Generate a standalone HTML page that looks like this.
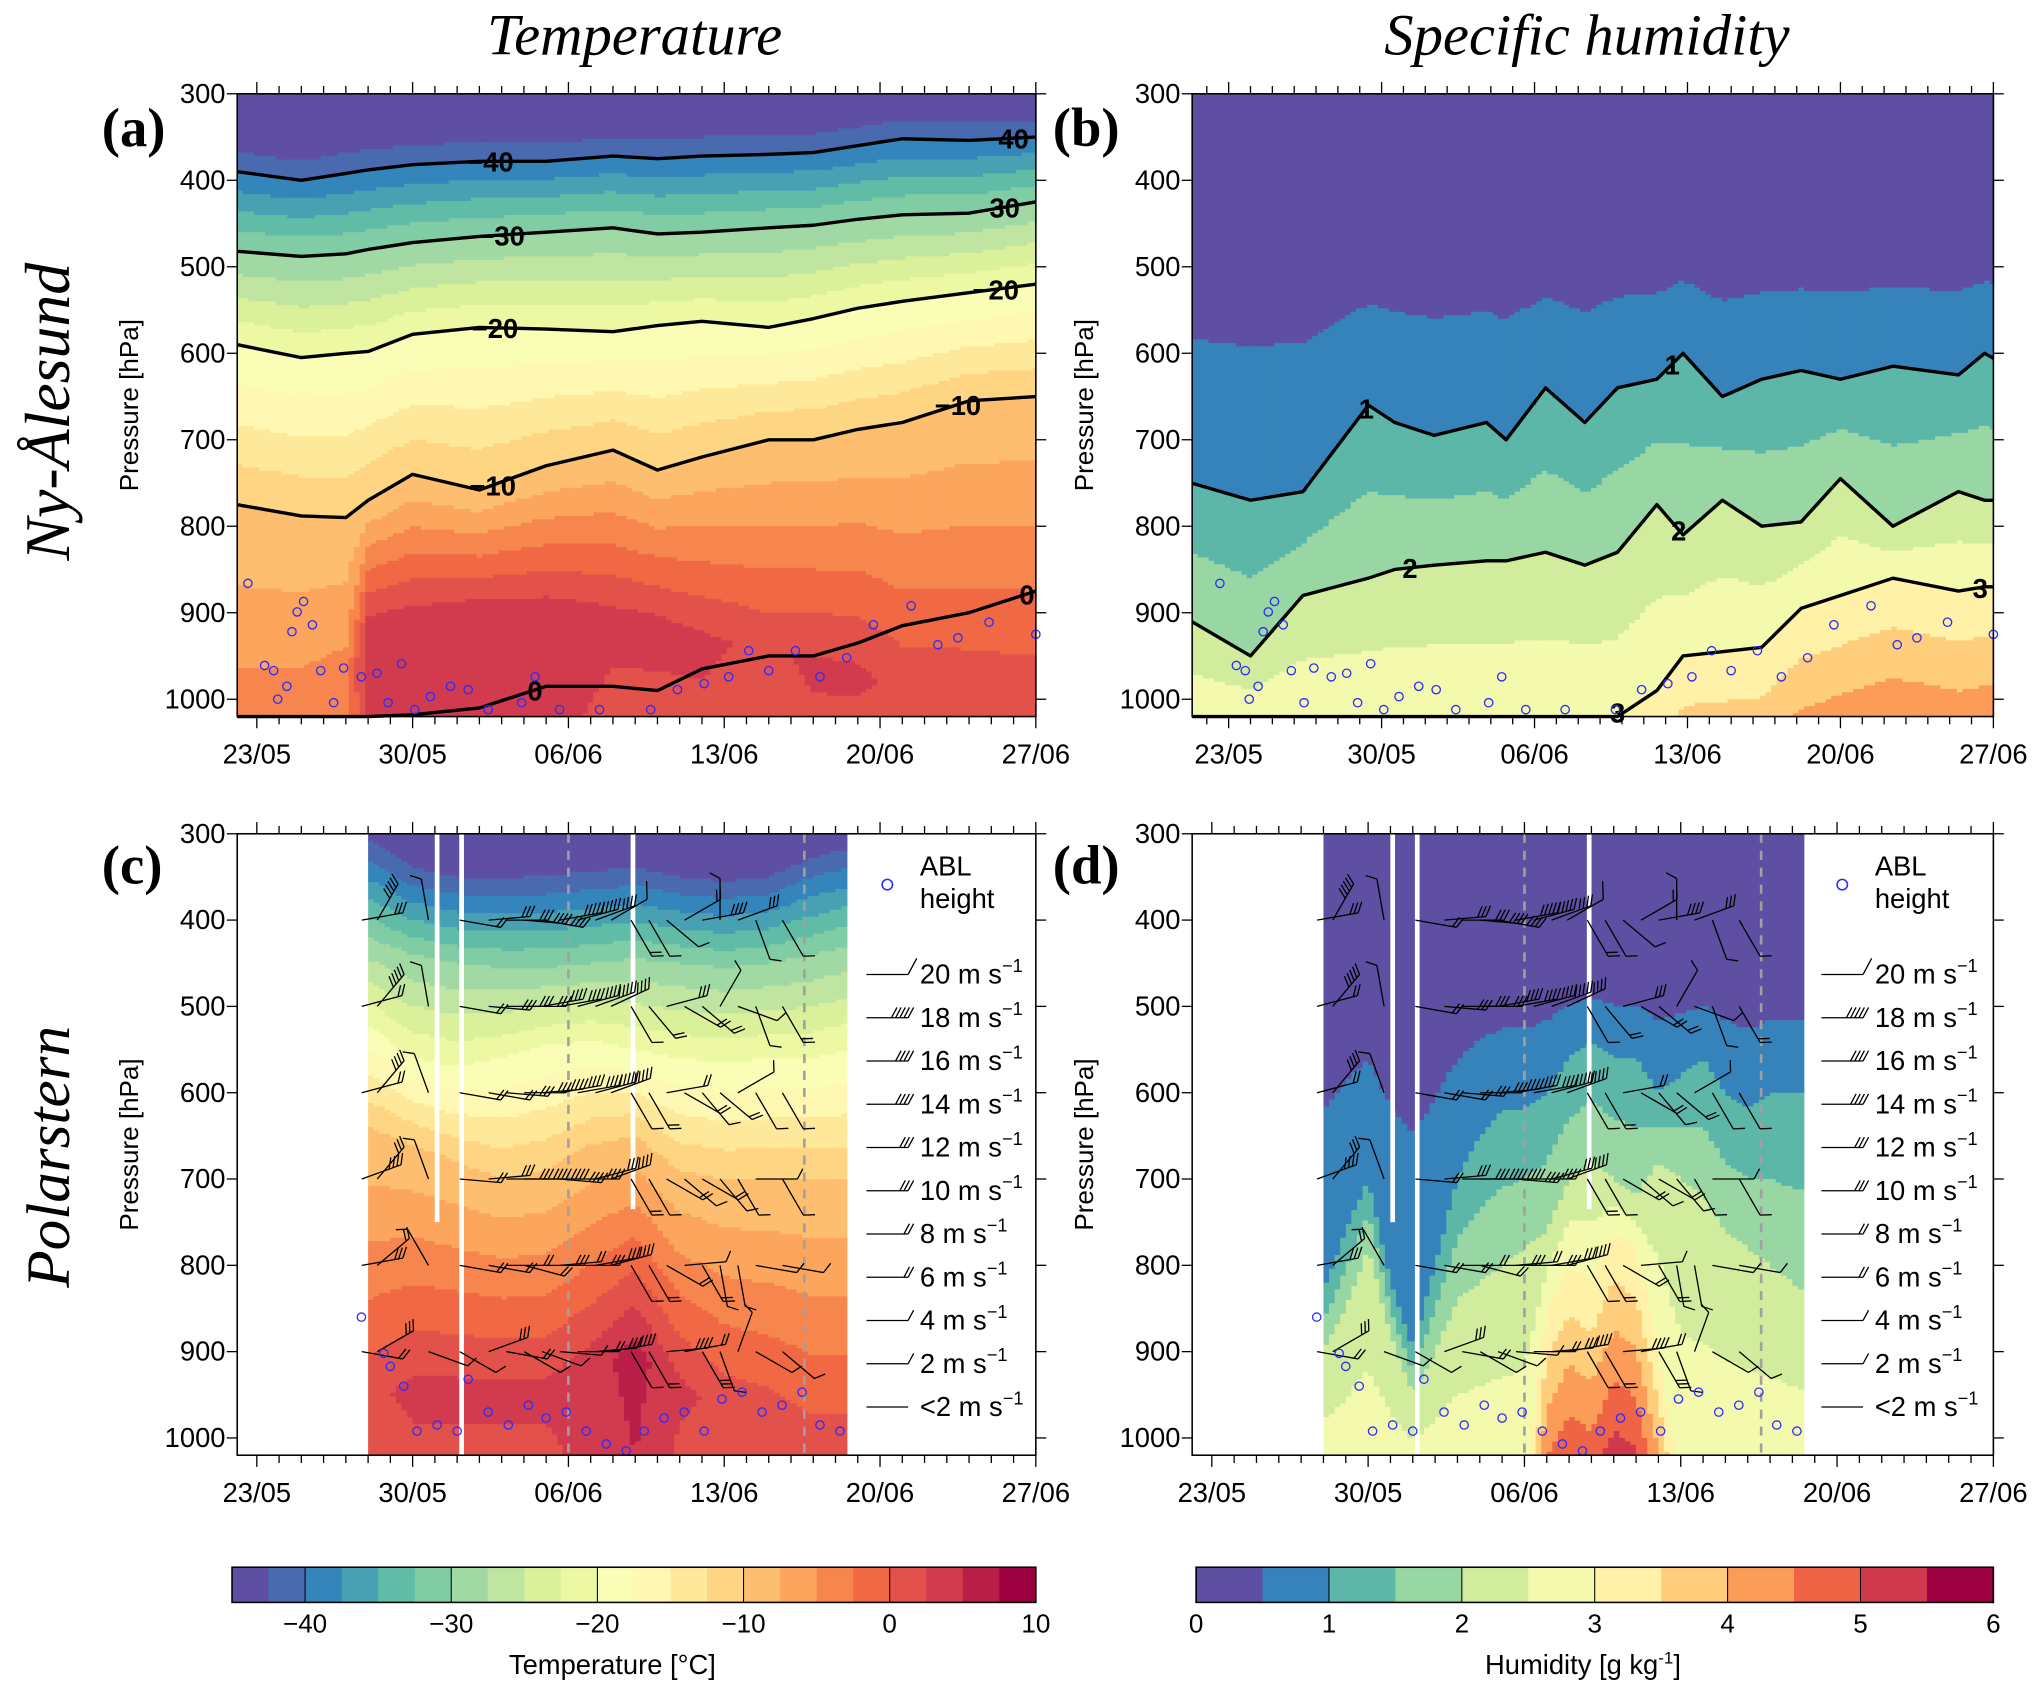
<!DOCTYPE html>
<html><head><meta charset="utf-8"><title>Temperature and specific humidity profiles</title>
<style>
html,body{margin:0;padding:0;background:#fff;}
svg{display:block;}
text{font-family:"Liberation Sans",sans-serif;}
.serif{font-family:"Liberation Serif",serif;}
</style></head>
<body>
<svg id="fig" width="2043" height="1691" viewBox="0 0 1568 1298" xmlns="http://www.w3.org/2000/svg">
<rect x="0" y="0" width="1568" height="1298" fill="#fff"/>
<text class="serif" x="487" y="42" font-size="45" font-style="italic" text-anchor="middle">Temperature</text>
<text class="serif" x="1218" y="42" font-size="45" font-style="italic" text-anchor="middle">Specific humidity</text>
<text class="serif" x="78" y="112" font-size="42" font-weight="bold">(a)</text>
<text class="serif" x="808" y="112" font-size="42" font-weight="bold">(b)</text>
<text class="serif" x="78" y="678" font-size="42" font-weight="bold">(c)</text>
<text class="serif" x="808" y="678" font-size="42" font-weight="bold">(d)</text>
<text class="serif" transform="translate(53,316) rotate(-90)" font-size="49" font-style="italic" text-anchor="middle">Ny-Ålesund</text>
<text class="serif" transform="translate(53,888) rotate(-90)" font-size="47" font-style="italic" text-anchor="middle">Polarstern</text>
<g id="layers"></g>
</svg>
<script>
// ---------------- data ----------------
// Ny-Ålesund temperature contours (pressure of isotherm, hPa) vs day (0 = 23/05)
const aDays = [-0.9, 2, 4, 5, 7, 10, 13, 16, 18, 20, 23, 25, 27, 29, 32, 35];
const aM40  = [390, 400, 392, 388, 382, 378, 378, 372, 375, 372, 370, 368, 360, 352, 354, 350];
const aM30  = [482, 488, 485, 480, 472, 465, 460, 455, 462, 460, 455, 452, 445, 440, 438, 425];
const aM20  = [590, 605, 600, 598, 578, 570, 572, 575, 568, 563, 570, 560, 548, 540, 530, 520];
const aM10  = [775, 788, 790, 770, 740, 758, 730, 712, 735, 720, 700, 700, 688, 680, 655, 650];
const aZ0   = [1025, 1025, 1025, 1022, 1018, 1010, 985, 985, 990, 965, 950, 950, 935, 915, 900, 875];
const aWarmP = [1000, 1000, 1000, 920, 910, 900, 900, 900, 910, 930, 940, 960, 970, 990, 1000, 1010];
const aWarmT = [-4, -4, -3, 4, 4, 4, 4, 3, 3, 3, 2, 3, 3, 2, 2, 2];
// Polarstern temperature
const cDays = [5, 7, 9, 11, 13, 15, 17, 19, 21, 23, 25, 26.5];
const cM40  = [330, 360, 370, 372, 370, 365, 360, 370, 375, 370, 350, 340];
const cM30  = [420, 440, 450, 455, 455, 450, 445, 450, 455, 450, 440, 430];
const cM20  = [520, 560, 570, 560, 545, 540, 550, 560, 565, 560, 560, 550];
const cM10  = [640, 660, 680, 700, 690, 660, 650, 690, 700, 700, 700, 700];
const cZ0   = [880, 870, 900, 930, 900, 860, 840, 900, 950, 960, 980, 1000];
const cWarmP = [960, 940, 940, 940, 940, 920, 900, 940, 970, 990, 1000, 1000];
const cWarmT = [2, 3, 3, 3, 3, 4, 6, 3, 2, 2, 1, 1];
// Ny-Ålesund humidity contours (g/kg)
const bDays = [-1.7, 1, 3.4, 6.4, 7.6, 9.4, 11.8, 12.7, 14.5, 16.3, 17.8, 19.6, 20.8, 22.6, 24.4, 26.2, 28, 30.4, 33.4, 34.6, 35.3];
const bQ1 = [750, 770, 760, 660, 680, 695, 680, 700, 640, 680, 640, 630, 600, 650, 630, 620, 630, 615, 625, 600, 610];
const bQ2 = [910, 950, 880, 860, 850, 845, 840, 840, 830, 845, 830, 775, 810, 770, 800, 795, 745, 800, 760, 770, 770];
const bQ3 = [1030, 1030, 1030, 1030, 1030, 1030, 1030, 1030, 1030, 1030, 1030, 990, 950, 945, 940, 895, 880, 860, 875, 870, 870];
// Polarstern humidity
const dDays = [5, 6, 7, 8, 9, 10, 11, 12, 13, 14, 15, 16, 17, 18, 19, 20, 21, 22, 23, 24, 25, 26.5];
const dQ1 = [830, 760, 700, 820, 900, 800, 700, 650, 620, 620, 600, 560, 540, 560, 560, 600, 580, 560, 600, 620, 600, 600];
const dQ2 = [900, 850, 780, 880, 950, 900, 840, 820, 800, 780, 760, 700, 680, 700, 720, 680, 700, 720, 760, 780, 800, 830];
const dQ3 = [1060, 1060, 1060, 1060, 1060, 1060, 1060, 1060, 1060, 1060, 850, 800, 820, 760, 780, 900, 1060, 1060, 1060, 1060, 1060, 1060];
// ABL heights
const ablDaysNA = [-0.4, 0.35, 0.76, 0.94, 1.35, 1.58, 1.81, 2.1, 2.5, 2.87, 3.45, 3.9, 4.7, 5.4, 5.9, 6.5, 7.1, 7.8, 8.7, 9.5, 10.4, 11.9, 12.5, 13.6, 15.4, 17.7, 18.9, 20.1, 21.2, 22.1, 23.0, 24.2, 25.3, 26.5, 27.7, 29.4, 30.6, 31.5, 32.9, 35.0];
const ablPNA = [866, 961, 967, 1000, 985, 922, 899, 887, 914, 967, 1004, 964, 974, 970, 1004, 959, 1012, 997, 985, 989, 1012, 1004, 974, 1012, 1012, 1012, 989, 982, 974, 944, 967, 944, 974, 952, 914, 892, 937, 929, 911, 925];
const ablDaysPS = [4.7, 5.7, 6.0, 6.6, 7.2, 8.1, 9.0, 9.5, 10.4, 11.3, 12.2, 13.0, 13.9, 14.8, 15.7, 16.6, 17.4, 18.3, 19.2, 20.1, 20.9, 21.8, 22.7, 23.6, 24.5, 25.3, 26.2];
const ablPPS = [860, 902, 917, 940, 992, 985, 992, 932, 970, 985, 962, 977, 970, 992, 1007, 1015, 992, 977, 970, 992, 955, 947, 970, 962, 947, 985, 992];
// Polarstern wind barbs
const wDays = [5.3, 6.0, 8.3, 9.7, 11.0, 11.8, 12.6, 13.4, 14.2, 15.0, 15.8, 16.5, 17.4, 18.2, 19.0, 19.8, 20.6, 21.4, 22.2, 23.0, 24.2];
const wLevels = [400, 500, 600, 700, 800, 900];
const wSpd400 = [10, 18, 2, 8, 10, 12, 14, 16, 18, 18, 16, 20, 6, 4, 4, 8, 14, 4, 10, 2, 4];
const wSpd500 = [8, 18, 2, 8, 10, 12, 12, 14, 16, 16, 18, 16, 4, 6, 10, 6, 8, 4, 4, 4, 6];
const wSpd600 = [8, 16, 2, 6, 8, 10, 12, 14, 14, 16, 18, 18, 4, 6, 6, 6, 4, 6, 4, 2, 4];
const wSpd700 = [14, 12, 2, 6, 10, 12, 14, 16, 14, 14, 12, 16, 6, 4, 8, 4, 6, 4, 4, 2, 4];
const wSpd800 = [10, 8, 2, 6, 8, 6, 8, 10, 8, 10, 12, 14, 4, 6, 8, 4, 6, 4, 4, 4, 4];
const wSpd900 = [8, 12, 2, 4, 10, 6, 4, 4, 2, 8, 10, 14, 4, 6, 14, 8, 10, 4, 4, 2, 4];
const wAng400 = [10, 60, 100, -10, 5, 0, -5, -10, 10, 15, 20, 30, -60, -60, -40, 30, 10, 90, 20, -70, -60];
const wAng500 = [15, 50, 100, -10, -5, 0, 0, 10, 10, 15, 20, 25, -60, -50, 15, -30, -40, 60, -20, -70, -60];
const wAng600 = [15, 50, 110, -10, -10, -5, 0, 5, 10, 10, 15, 20, -60, -60, 10, -30, -50, -40, 30, -60, -60];
const wAng700 = [20, 50, 110, -5, 5, 0, 0, 0, -5, 0, 15, 20, -60, -60, -30, -40, -30, -50, -60, 0, -60];
const wAng800 = [10, 40, 120, -10, -10, 0, -15, 0, 5, 0, 10, 15, -60, -60, -30, 5, -60, -80, -80, -10, -10];
const wAng900 = [-10, 30, -20, -30, 20, -10, -30, -20, -5, 0, 5, 10, -60, -60, 5, 10, -60, -70, 70, -30, -40];
const legendSpeeds = [20, 18, 16, 14, 12, 10, 8, 6, 4, 2, 1];
const legendSpeedLabels = ['20', '18', '16', '14', '12', '10', '8', '6', '4', '2', '<2'];
const dateLabels = ['23/05', '30/05', '06/06', '13/06', '20/06', '27/06'];
const pressureTicks = [300, 400, 500, 600, 700, 800, 900, 1000];
const tempTicks = [-40, -30, -20, -10, 0, 10];
const humTicks = [0, 1, 2, 3, 4, 5, 6];

// ---------------- helpers ----------------
const NS = 'http://www.w3.org/2000/svg';
const root = document.getElementById('layers');
function mk(parent, tag, attrs) {
  const e = document.createElementNS(NS, tag);
  for (const k in attrs) e.setAttribute(k, attrs[k]);
  parent.appendChild(e);
  return e;
}
const SP = ['#5e4fa2','#3288bd','#66c2a5','#abdda4','#e6f598','#ffffbf','#fee08b','#fdae61','#f46d43','#d53e4f','#9e0142'];
function hex(h){return [parseInt(h.substr(1,2),16),parseInt(h.substr(3,2),16),parseInt(h.substr(5,2),16)];}
function cmap(t){
  t=Math.max(0,Math.min(1,t)); const f=t*10; const i=Math.min(9,Math.floor(f)); const r=f-i;
  const a=hex(SP[i]), b=hex(SP[i+1]);
  return 'rgb('+a.map((v,k)=>Math.round(v+(b[k]-v)*r)).join(',')+')';
}
const tempColors = []; for (let i=0;i<22;i++) tempColors.push(cmap(i/21));
const humColors = []; for (let i=0;i<12;i++) humColors.push(cmap(i/11));

const PAN = {
  a:{x0:182,x1:795,y0:72,y1:550,d0:-0.88,d1:35},
  b:{x0:915,x1:1530,y0:72,y1:550,d0:-1.67,d1:35},
  c:{x0:182,x1:795,y0:640,y1:1117,d0:-0.88,d1:35},
  d:{x0:915,x1:1530,y0:640,y1:1117,d0:-0.88,d1:35}
};
const PMIN=300, PMAX=1020;
function xs(P,d){return P.x0+(d-P.d0)/(P.d1-P.d0)*(P.x1-P.x0);}
function ys(P,p){return P.y0+(p-PMIN)/(PMAX-PMIN)*(P.y1-P.y0);}
function interpDay(days, arr, d){
  if (d<=days[0]) return arr[0];
  if (d>=days[days.length-1]) return arr[arr.length-1];
  for (let i=0;i<days.length-1;i++){
    if (d>=days[i] && d<=days[i+1]){const r=(d-days[i])/(days[i+1]-days[i]);return arr[i]+(arr[i+1]-arr[i])*r;}
  }
  return arr[arr.length-1];
}
function profile(pts, p){
  pts.sort((u,v)=>u[0]-v[0]);
  let i=0;
  if (p<=pts[0][0]) i=0;
  else if (p>=pts[pts.length-1][0]) i=pts.length-2;
  else { for (i=0;i<pts.length-1;i++) if (p>=pts[i][0] && p<=pts[i+1][0]) break; }
  const a=pts[i], b=pts[i+1];
  if (b[0]===a[0]) return a[1];
  return a[1]+(b[1]-a[1])*(p-a[0])/(b[0]-a[0]);
}
function tempAt(days,m40,m30,m20,m10,wp,wt,d,p){
  const p40=interpDay(days,m40,d), p30=interpDay(days,m30,d), p20=interpDay(days,m20,d), p10=interpDay(days,m10,d);
  let pw=interpDay(days,wp,d); const tw=interpDay(days,wt,d);
  if (pw<p10+40) pw=p10+40;
  const pts=[[p40,-40],[p30,-30],[p20,-20],[p10,-10],[pw,tw]];
  let T;
  if (p<p40) { const s=10/(p30-p40); T=-40-(p40-p)*s; }
  else if (p>=pw) T=tw+(-1)*(p-pw)/Math.max(1,1025-pw);
  else T=profile(pts,p);
  return Math.max(-45,Math.min(9.9,T));
}
function humAt(days,q1,q2,q3,d,p){
  const c1=interpDay(days,q1,d), c2=interpDay(days,q2,d), c3=interpDay(days,q3,d);
  const pts=[[450,0.1],[c1,1],[c2,2],[c3,3],[c3+150,4.3]];
  let q;
  if (p<450) q=0.1; else q=profile(pts,p);
  return Math.max(0,Math.min(5.99,q));
}
function heatmap(key, g, dStart, dEnd, fn, colors, binFn){
  const P=PAN[key]; const step=0.25, pstep=4;
  for (let d=dStart; d<dEnd-1e-6; d+=step){
    const dc=d+step/2; const xa=xs(P,d), xb=xs(P,Math.min(d+step,dEnd));
    let runStart=PMIN, runBin=null;
    for (let p=PMIN; p<=PMAX; p+=pstep){
      const bin = p<PMAX ? binFn(fn(dc,p+pstep/2)) : -1;
      if (runBin===null){runBin=bin;runStart=p;continue;}
      if (bin!==runBin){
        const r=mk(g,'rect',{x:xa.toFixed(2),y:ys(P,runStart).toFixed(2),width:(xb-xa+0.6).toFixed(2),height:(ys(P,p)-ys(P,runStart)+0.6).toFixed(2),fill:colors[runBin]});
        
        
        runBin=bin; runStart=p;
      }
    }
  }
}
const tBin = T=>Math.max(0,Math.min(21,Math.floor((T+45)/2.5)));
const qBin = q=>Math.max(0,Math.min(11,Math.floor(q/0.5)));

function panelGroup(key,name){
  const g=mk(root,'g',{});
  
  
  return g;
}
function axes(key,g){
  const P=PAN[key];
  const fr=mk(g,'rect',{x:P.x0,y:P.y0,width:P.x1-P.x0,height:P.y1-P.y0,fill:'none',stroke:'#000','stroke-width':1.2});
  
  
  for (let d=Math.ceil(P.d0); d<=35; d++){
    const x=xs(P,d); const major=(d%7===0); const L=major?9:6;
    const t1=mk(g,'line',{x1:x,y1:P.y0,x2:x,y2:P.y0-L,stroke:'#000','stroke-width':1});
    
    
    const t2=mk(g,'line',{x1:x,y1:P.y1,x2:x,y2:P.y1+L,stroke:'#000','stroke-width':1});
    
    
  }
  dateLabels.forEach((lab,i)=>{
    const t=mk(g,'text',{x:xs(P,i*7),y:P.y1+36,'font-size':21,'text-anchor':'middle'});
    t.textContent=lab;
    
    
  });
  pressureTicks.forEach(p=>{
    const y=ys(P,p);
    const l1=mk(g,'line',{x1:P.x0-8,y1:y,x2:P.x0,y2:y,stroke:'#000','stroke-width':1});
    
    
    const l2=mk(g,'line',{x1:P.x1,y1:y,x2:P.x1+8,y2:y,stroke:'#000','stroke-width':1});
    
    
    const t=mk(g,'text',{x:P.x0-9,y:y+7,'font-size':21,'text-anchor':'end'});
    t.textContent=p;
    
    
  });
  const yt=mk(g,'text',{transform:'translate('+(P.x0-76)+','+((P.y0+P.y1)/2)+') rotate(-90)','font-size':20,'text-anchor':'middle'});
  yt.textContent='Pressure [hPa]';
  
  
}
function contour(key,g,days,arr,labels){
  const P=PAN[key];
  let dstr='';
  const ds=[P.d0].concat(days.filter(d=>d>P.d0&&d<P.d1)).concat([P.d1]);
  ds.forEach((d,i)=>{const p=Math.min(PMAX,interpDay(days,arr,d));dstr+=(i?'L':'M')+xs(P,d).toFixed(1)+','+ys(P,p).toFixed(1);});
  const path=mk(g,'path',{d:dstr,fill:'none',stroke:'#000','stroke-width':2.6,'stroke-linejoin':'round'});
  
  
  labels.forEach(L=>{
    const p=Math.min(1015,interpDay(days,arr,L[0]));
    const t=mk(g,'text',{x:xs(P,L[0]),y:ys(P,p)+8,'font-size':21,'font-weight':'bold','text-anchor':'middle'});
    t.textContent=L[1];
    
    
  });
}
function abl(key,g,days,ps){
  const P=PAN[key];
  days.forEach((d,i)=>{
    const c=mk(g,'circle',{cx:xs(P,d).toFixed(1),cy:ys(P,ps[i]).toFixed(1),r:3.2,fill:'none',stroke:'#2b2bff','stroke-width':1});
    
    
  });
}
function barb(g,x,y,ang,spd,name){
  const a=ang*Math.PI/180, L=32;
  const xe=x+L*Math.cos(a), ye=y-L*Math.sin(a);
  let dstr='M'+x.toFixed(1)+','+y.toFixed(1)+'L'+xe.toFixed(1)+','+ye.toFixed(1);
  let n=spd>=2?Math.max(1,Math.round(spd/4)):0;
  const fa=a+62*Math.PI/180;
  const flen = spd>=20 ? 14 : 9;
  if (spd>=20) n=1;
  for (let k=0;k<n;k++){
    const bx=xe-k*3.2*Math.cos(a), by=ye+k*3.2*Math.sin(a);
    dstr+='M'+bx.toFixed(1)+','+by.toFixed(1)+'L'+(bx+flen*Math.cos(fa)).toFixed(1)+','+(by-flen*Math.sin(fa)).toFixed(1);
  }
  const p=mk(g,'path',{d:dstr,fill:'none',stroke:'#000','stroke-width':1});
  
  
}
const wSpd=[wSpd400,wSpd500,wSpd600,wSpd700,wSpd800,wSpd900];
const wAng=[wAng400,wAng500,wAng600,wAng700,wAng800,wAng900];
function winds(key,g){
  const P=PAN[key];
  wLevels.forEach((lev,li)=>{
    wDays.forEach((d,i)=>{ barb(g,xs(P,d)-10,ys(P,lev),wAng[li][i],wSpd[li][i],'wind-barb'); });
  });
}
function gaps(key,g){
  const P=PAN[key];
  [[8.1,750],[9.2,PMAX],[16.9,735]].forEach(G=>{
    const r=mk(g,'rect',{x:xs(P,G[0])-1.8,y:P.y0,width:3.6,height:ys(P,G[1])-P.y0,fill:'#fff'});
    
    
  });
  [14.0,24.6].forEach(d=>{
    const l=mk(g,'line',{x1:xs(P,d),y1:P.y0,x2:xs(P,d),y2:P.y1,stroke:'#a0a0a0','stroke-width':2,'stroke-dasharray':'7,6'});
    
    
  });
}
function legend(key,g){
  const P=PAN[key]; const lx=P.x0+483;
  const c=mk(g,'circle',{cx:lx+16,cy:679,r:4,fill:'none',stroke:'#2b2bff','stroke-width':1.2});
  
  
  const t1=mk(g,'text',{x:lx+41,y:672,'font-size':21});
  t1.textContent='ABL';
  
  
  const t2=mk(g,'text',{x:lx+41,y:697,'font-size':21});
  t2.textContent='height';
  
  
  legendSpeeds.forEach((s,i)=>{
    const y=748+i*33.2;
    barb(g,lx,y,0,s,'legend-wind-barb');
    const t=mk(g,'text',{x:lx+41,y:y+7,'font-size':21});
    t.innerHTML=legendSpeedLabels[i]+' m s<tspan dy="-9" font-size="14">−1</tspan>';
    
    
  });
}

// ---------------- panels ----------------
const gA=panelGroup('a','panel-a-temperature-ny-alesund');
heatmap('a',gA,PAN.a.d0,35,(d,p)=>tempAt(aDays,aM40,aM30,aM20,aM10,aWarmP,aWarmT,d,p),tempColors,tBin);
contour('a',gA,aDays,aM40,[[10.5,'−40'],[34,'40']]);
contour('a',gA,aDays,aM30,[[11,'−30'],[33.6,'30']]);
contour('a',gA,aDays,aM20,[[10.7,'−20'],[33.2,'−20']]);
contour('a',gA,aDays,aM10,[[10.6,'−10'],[31.5,'−10']]);
contour('a',gA,aDays,aZ0,[[12.5,'0'],[34.6,'0']]);
abl('a',gA,ablDaysNA,ablPNA);
axes('a',gA);

const gB=panelGroup('b','panel-b-humidity-ny-alesund');
heatmap('b',gB,PAN.b.d0,35,(d,p)=>humAt(bDays,bQ1,bQ2,bQ3,d,p),humColors,qBin);
contour('b',gB,bDays,bQ1,[[6.3,'1'],[20.3,'1']]);
contour('b',gB,bDays,bQ2,[[8.3,'2'],[20.6,'2']]);
contour('b',gB,bDays,bQ3,[[34.4,'3'],[17.8,'3']]);
abl('b',gB,ablDaysNA,ablPNA);
axes('b',gB);

const gC=panelGroup('c','panel-c-temperature-polarstern');
heatmap('c',gC,5,26.5,(d,p)=>tempAt(cDays,cM40,cM30,cM20,cM10,cWarmP,cWarmT,d,p),tempColors,tBin);
gaps('c',gC);
winds('c',gC);
abl('c',gC,ablDaysPS,ablPPS);
legend('c',gC);
axes('c',gC);

const gD=panelGroup('d','panel-d-humidity-polarstern');
heatmap('d',gD,5,26.5,(d,p)=>humAt(dDays,dQ1,dQ2,dQ3,d,p),humColors,qBin);
gaps('d',gD);
winds('d',gD);
abl('d',gD,ablDaysPS,ablPPS);
legend('d',gD);
axes('d',gD);

// ---------------- colorbars ----------------
function colorbar(name,x0,x1,colors,vmin,vmax,ticks,title,titleX){
  const g=mk(root,'g',{});
  
  
  const y0=1203,h=27,n=colors.length,w=(x1-x0)/n;
  colors.forEach((c,i)=>{
    const r=mk(g,'rect',{x:(x0+i*w).toFixed(2),y:y0,width:(w+0.5).toFixed(2),height:h,fill:c});
    
    
  });
  const fr=mk(g,'rect',{x:x0,y:y0,width:x1-x0,height:h,fill:'none',stroke:'#000','stroke-width':1.2});
  
  
  ticks.forEach(v=>{
    const x=x0+(v-vmin)/(vmax-vmin)*(x1-x0);
    const l=mk(g,'line',{x1:x,y1:y0,x2:x,y2:y0+h,stroke:'#000','stroke-width':0.8});
    
    
    const t=mk(g,'text',{x:x,y:1253,'font-size':20,'text-anchor':'middle'});
    t.textContent=(v<0?'−'+(-v):v);
    
    
  });
  const tt=mk(g,'text',{x:titleX,y:1285,'font-size':21,'text-anchor':'middle'});
  tt.innerHTML=title;
  
  
}
colorbar('temperature-colorbar',178,795,tempColors,-45,10,tempTicks,'Temperature [°C]',470);
colorbar('humidity-colorbar',918,1530,humColors,0,6,humTicks,'Humidity [g kg<tspan dy="-8" font-size="13">-1</tspan><tspan dy="8">]</tspan>',1215);
</script>
</body></html>
